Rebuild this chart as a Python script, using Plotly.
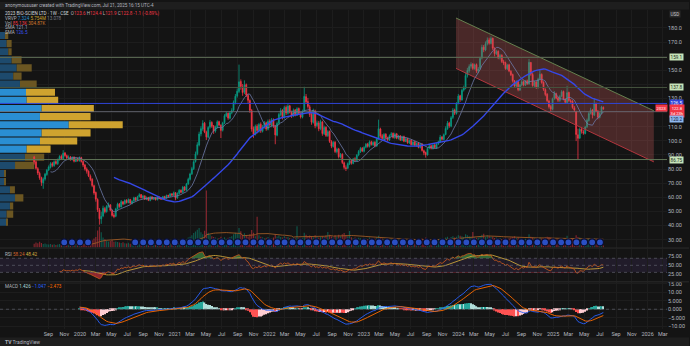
import numpy as np
import pandas as pd
import plotly.graph_objects as go

W, H = 690, 346

# ------------------------------------------------------------------ data
START_WEEK = "2019-07-08"

opens = [
    88.6, 85.2, 80.3, 77.0, 73.9, 70.2, 72.9, 76.1, 79.4, 81.2,
    83.9, 82.4, 85.3, 83.8, 86.9, 89.0, 87.3, 91.4, 89.5, 87.6,
    88.5, 86.8, 88.3, 85.4, 87.4, 86.0, 88.1, 85.3, 82.9, 80.0,
    78.5, 75.0, 72.8, 68.2, 63.4, 58.5, 51.0, 44.6, 46.8, 52.0,
    49.9, 53.4, 54.6, 50.7, 47.4, 46.6, 51.9, 55.3, 53.1, 56.8,
    55.4, 57.9, 56.2, 58.5, 55.8, 57.3, 59.7, 58.0, 60.5, 61.9,
    59.6, 61.0, 58.5, 59.9, 57.8, 60.3, 58.7, 59.6, 58.2, 60.2,
    59.3, 58.6, 60.5, 59.5, 61.4, 60.7, 62.5, 61.4, 63.3, 59.5,
    62.7, 65.0, 63.5, 67.3, 65.0, 69.5, 72.7, 76.6, 80.2, 85.3,
    90.8, 97.0, 104.9, 108.4, 112.5, 106.1, 102.6, 109.7, 113.0, 110.6,
    106.9, 109.5, 113.6, 111.0, 107.5, 112.8, 117.6, 119.5, 116.0, 119.9,
    121.7, 127.1, 131.8, 135.0, 142.0, 138.3, 134.4, 139.8, 132.2, 128.5,
    121.4, 108.6, 104.4, 110.4, 107.1, 111.7, 106.7, 109.9, 112.8, 108.2,
    113.9, 111.0, 115.0, 110.4, 104.0, 112.5, 118.4, 121.6, 116.6, 123.7,
    119.5, 124.8, 120.1, 117.6, 121.8, 118.2, 122.9, 119.1, 116.7, 121.0,
    131.3, 127.8, 124.1, 118.7, 113.0, 121.2, 110.8, 112.6, 108.7, 113.4,
    105.0, 109.6, 103.6, 106.7, 99.4, 96.0, 99.0, 92.2, 94.3, 88.5,
    90.5, 84.4, 81.0, 80.6, 83.6, 86.1, 84.0, 87.3, 86.1, 90.0,
    92.2, 94.8, 92.6, 95.5, 97.8, 95.9, 99.4, 97.2, 99.0, 96.3,
    101.5, 108.4, 103.6, 101.5, 104.7, 102.0, 100.6, 103.8, 105.3, 102.2,
    104.9, 101.7, 103.5, 100.4, 103.0, 99.5, 101.6, 98.4, 100.4, 97.1,
    99.3, 96.6, 98.4, 95.2, 97.8, 93.0, 91.7, 90.0, 94.8, 96.5,
    94.6, 97.1, 95.0, 97.9, 99.2, 102.8, 100.9, 104.5, 108.5, 112.7,
    110.4, 116.6, 121.9, 119.4, 126.5, 131.9, 129.0, 136.0, 137.2, 146.4,
    149.6, 152.8, 154.3, 151.1, 154.0, 149.4, 151.1, 158.6, 166.4, 164.3,
    168.9, 171.5, 169.0, 172.6, 165.4, 161.6, 163.4, 158.7, 160.6, 156.0,
    155.3, 151.0, 153.8, 149.2, 147.0, 142.3, 138.7, 141.9, 136.0, 139.6,
    141.9, 139.4, 142.5, 140.3, 155.4, 147.0, 139.0, 141.7, 137.6, 143.8,
    147.0, 141.5, 136.3, 133.0, 128.2, 124.4, 122.3, 130.0, 133.4, 130.4,
    128.5, 131.6, 135.0, 129.4, 127.1, 134.3, 128.3, 128.1, 123.4, 120.6,
    104.3, 102.0, 108.4, 106.5, 105.2, 110.0, 114.4, 119.5, 121.9, 118.2,
    126.3, 121.0, 116.6, 119.7, 123.6,
]
highs = [
    89.4, 86.1, 81.4, 78.2, 74.6, 74.1, 77.3, 80.1, 82.6, 84.9,
    85.0, 86.2, 86.4, 87.5, 89.8, 90.2, 93.4, 92.1, 90.3, 89.7,
    89.3, 89.0, 89.1, 88.1, 88.2, 88.9, 88.7, 86.0, 83.7, 81.2,
    79.1, 76.2, 73.5, 69.0, 64.1, 59.3, 52.4, 49.8, 54.1, 53.2,
    54.5, 56.3, 55.2, 51.4, 48.8, 52.6, 56.2, 56.0, 58.1, 57.4,
    58.6, 58.7, 59.2, 58.9, 57.9, 60.4, 60.3, 61.1, 62.9, 62.3,
    61.7, 61.4, 60.6, 60.3, 60.9, 60.8, 60.2, 60.1, 60.8, 60.6,
    59.9, 61.0, 61.1, 61.9, 61.8, 63.0, 62.9, 64.1, 63.6, 63.5,
    65.8, 65.6, 68.1, 67.9, 70.2, 73.9, 77.4, 81.6, 86.3, 92.4,
    99.0, 106.5, 110.3, 114.6, 113.4, 107.2, 110.4, 114.8, 113.9, 111.2,
    110.8, 114.6, 114.3, 111.8, 113.5, 118.9, 120.6, 120.1, 121.0, 123.1,
    128.6, 133.2, 137.1, 154.0, 143.5, 140.2, 142.8, 140.6, 133.5, 129.4,
    122.6, 110.2, 111.5, 111.8, 112.7, 113.1, 111.2, 114.0, 113.6, 115.1,
    115.3, 116.2, 115.9, 111.3, 113.6, 119.8, 123.2, 122.4, 124.8, 125.1,
    126.0, 125.5, 121.4, 122.9, 122.6, 123.8, 123.6, 120.2, 122.1, 138.3,
    133.2, 130.4, 125.6, 119.8, 122.8, 122.1, 114.3, 114.1, 115.0, 114.2,
    110.8, 110.3, 107.6, 107.3, 100.5, 99.9, 99.8, 95.2, 95.0, 91.4,
    91.2, 85.3, 82.6, 84.7, 87.2, 86.9, 87.9, 88.4, 90.6, 93.5,
    95.7, 95.6, 96.2, 98.5, 98.6, 100.3, 100.1, 99.7, 99.8, 102.4,
    115.0, 109.3, 104.8, 105.6, 105.4, 102.9, 104.5, 106.2, 105.9, 105.7,
    105.6, 104.2, 104.1, 103.6, 103.7, 102.2, 102.0, 101.1, 100.9, 99.8,
    99.9, 98.9, 99.0, 98.3, 98.1, 93.8, 92.4, 95.3, 97.2, 97.0,
    97.6, 97.8, 98.6, 100.1, 104.2, 103.4, 105.2, 110.3, 114.1, 113.5,
    117.6, 123.2, 122.8, 127.4, 133.2, 132.6, 136.9, 139.1, 148.3, 151.7,
    154.2, 155.6, 155.1, 154.7, 154.8, 152.3, 159.6, 168.1, 167.9, 170.4,
    173.2, 173.0, 174.0, 173.1, 166.3, 164.5, 164.1, 161.6, 161.3, 157.4,
    156.1, 154.5, 154.6, 150.1, 147.6, 143.1, 142.8, 142.6, 140.3, 143.2,
    142.6, 143.1, 143.4, 158.0, 155.9, 148.1, 142.6, 142.3, 144.7, 150.0,
    147.8, 142.1, 137.2, 133.8, 129.1, 125.6, 130.6, 135.2, 134.1, 131.2,
    132.6, 135.9, 135.6, 130.2, 139.0, 134.8, 129.6, 128.8, 124.7, 121.3,
    108.6, 109.4, 109.7, 107.9, 110.6, 115.8, 120.5, 123.4, 122.6, 130.2,
    127.1, 121.9, 120.4, 124.8, 124.4,
]
lows = [
    83.2, 79.6, 75.8, 72.4, 68.1, 66.0, 71.8, 75.2, 78.6, 80.4,
    81.3, 81.6, 83.1, 82.9, 86.0, 86.4, 86.8, 88.7, 86.9, 86.5,
    85.9, 86.1, 84.7, 84.9, 85.2, 85.3, 84.6, 81.4, 78.9, 76.8,
    74.3, 71.4, 67.2, 61.8, 56.9, 49.6, 40.6, 41.2, 45.9, 48.6,
    49.1, 52.7, 50.1, 46.3, 45.2, 45.9, 51.2, 52.6, 52.8, 54.3,
    54.8, 55.6, 55.8, 55.1, 55.0, 56.8, 57.4, 57.5, 59.9, 59.1,
    59.0, 58.1, 58.0, 57.3, 57.2, 58.2, 58.1, 57.7, 57.9, 58.6,
    58.1, 58.2, 59.0, 59.1, 60.2, 60.3, 61.0, 61.0, 57.9, 59.0,
    62.1, 62.9, 63.1, 64.3, 64.6, 68.8, 71.9, 75.8, 79.4, 84.6,
    89.7, 96.1, 103.2, 107.1, 105.4, 100.6, 101.8, 108.6, 109.2, 104.9,
    105.8, 108.7, 110.4, 102.0, 106.6, 111.9, 116.8, 114.9, 115.2, 118.8,
    120.9, 125.8, 130.6, 133.8, 136.2, 131.9, 133.1, 131.0, 126.3, 119.8,
    106.5, 102.1, 103.8, 105.2, 105.8, 105.6, 105.9, 108.6, 107.1, 107.4,
    109.8, 109.6, 109.2, 97.6, 103.2, 111.4, 117.3, 115.1, 115.6, 118.2,
    118.6, 119.4, 116.2, 116.8, 117.3, 117.6, 118.4, 115.8, 115.9, 120.4,
    126.1, 122.9, 116.9, 111.4, 112.2, 108.9, 109.7, 106.8, 107.5, 103.6,
    104.1, 102.7, 102.8, 98.5, 94.8, 95.2, 91.3, 91.0, 87.5, 87.6,
    83.5, 79.8, 78.6, 79.9, 82.8, 83.1, 83.4, 85.2, 85.4, 89.1,
    91.4, 92.0, 91.8, 94.7, 95.2, 95.3, 96.6, 96.3, 95.4, 95.7,
    100.8, 102.1, 100.6, 100.9, 101.3, 99.7, 99.9, 102.9, 101.6, 101.4,
    101.1, 100.9, 99.9, 99.8, 99.0, 99.1, 97.9, 97.8, 96.6, 96.5,
    96.1, 95.9, 94.7, 94.6, 92.4, 89.8, 88.1, 89.6, 94.0, 93.9,
    93.8, 94.6, 94.4, 97.1, 98.5, 100.2, 100.4, 103.9, 107.8, 109.2,
    109.6, 115.4, 118.3, 118.6, 125.8, 127.6, 128.4, 134.9, 136.5, 144.8,
    148.3, 151.2, 150.2, 150.4, 148.1, 147.9, 150.3, 157.7, 162.8, 163.5,
    167.6, 168.1, 168.3, 164.2, 159.8, 160.9, 157.8, 157.6, 155.1, 153.6,
    150.3, 150.2, 148.6, 145.9, 141.3, 137.6, 137.9, 135.1, 135.3, 138.7,
    138.6, 138.9, 139.6, 139.8, 146.1, 138.3, 138.1, 136.7, 137.0, 142.9,
    140.4, 135.4, 131.6, 127.3, 122.9, 120.8, 121.6, 129.1, 129.4, 127.5,
    127.6, 130.8, 128.7, 126.2, 126.5, 127.6, 126.4, 122.7, 120.4, 99.8,
    87.0, 101.2, 105.1, 104.3, 104.6, 109.1, 113.6, 118.7, 115.9, 117.6,
    120.3, 115.2, 115.9, 118.9, 121.9,
]
closes = [
    85.0, 80.5, 77.2, 73.8, 70.5, 72.8, 76.4, 79.2, 81.5, 83.8,
    82.6, 85.1, 84.0, 86.7, 88.9, 87.5, 91.2, 89.6, 87.8, 88.4,
    86.9, 88.2, 85.6, 87.3, 86.1, 88.0, 85.4, 82.8, 80.1, 78.4,
    75.2, 72.6, 68.4, 63.1, 58.7, 51.2, 44.8, 46.5, 52.3, 49.8,
    53.6, 54.8, 50.9, 47.2, 46.4, 51.8, 55.1, 53.4, 56.9, 55.2,
    57.8, 56.3, 58.4, 55.9, 57.2, 59.6, 58.1, 60.4, 61.8, 59.7,
    60.9, 58.6, 59.8, 57.9, 60.2, 58.8, 59.5, 58.3, 60.1, 59.2,
    58.7, 60.4, 59.6, 61.3, 60.8, 62.4, 61.5, 63.2, 59.4, 62.8,
    64.9, 63.6, 67.2, 65.1, 69.4, 72.8, 76.5, 80.3, 85.1, 90.6,
    97.2, 104.8, 108.6, 112.4, 106.3, 102.8, 109.5, 113.2, 110.4, 106.8,
    109.7, 113.5, 111.2, 107.4, 112.6, 117.8, 119.4, 116.2, 119.8, 121.5,
    127.3, 131.6, 135.2, 141.8, 138.5, 134.2, 139.6, 132.4, 128.7, 121.6,
    108.4, 104.6, 110.2, 107.3, 111.5, 106.9, 109.8, 112.6, 108.4, 113.7,
    111.2, 114.8, 110.6, 104.2, 112.3, 118.6, 121.4, 116.8, 123.5, 119.7,
    124.6, 120.3, 117.8, 121.6, 118.4, 122.7, 119.3, 116.9, 120.8, 131.5,
    127.6, 124.3, 118.5, 113.2, 121.4, 110.6, 112.8, 108.5, 113.6, 105.2,
    109.4, 103.8, 106.5, 99.6, 96.2, 98.8, 92.4, 94.1, 88.7, 90.3,
    84.6, 81.2, 80.4, 83.8, 85.9, 84.2, 87.1, 86.3, 89.8, 92.4,
    94.6, 92.8, 95.3, 97.6, 96.1, 99.2, 97.4, 98.8, 96.5, 101.3,
    108.6, 103.4, 101.7, 104.5, 102.2, 100.8, 103.6, 105.1, 102.4, 104.8,
    101.9, 103.3, 100.6, 102.8, 99.7, 101.4, 98.6, 100.2, 97.3, 99.1,
    96.8, 98.2, 95.4, 97.6, 93.2, 91.5, 90.2, 94.6, 96.3, 94.8,
    96.9, 95.2, 97.8, 99.4, 102.6, 101.1, 104.3, 108.7, 112.5, 110.6,
    116.4, 121.8, 119.6, 126.3, 131.7, 129.2, 135.8, 137.4, 146.2, 149.8,
    152.6, 154.1, 151.3, 153.8, 149.6, 150.9, 158.4, 166.2, 164.5, 168.7,
    171.3, 169.2, 172.4, 165.6, 161.8, 163.2, 158.9, 160.4, 156.2, 155.1,
    151.2, 153.6, 149.4, 146.8, 142.5, 138.9, 141.7, 136.2, 139.4, 141.8,
    139.6, 142.3, 140.5, 155.6, 147.2, 139.2, 141.5, 137.8, 143.6, 147.2,
    141.3, 136.5, 132.8, 128.4, 124.2, 122.5, 129.8, 133.6, 130.2, 128.7,
    131.4, 134.8, 129.6, 127.3, 134.1, 128.5, 127.9, 123.6, 121.8, 104.5,
    101.8, 108.2, 106.7, 105.4, 109.8, 114.6, 119.3, 121.7, 118.4, 126.5,
    121.2, 116.8, 119.5, 123.9, 122.8,
]
volumes_k = [
    160, 210, 180, 240, 190, 150, 170, 140, 130, 150,
    120, 140, 110, 130, 150, 120, 170, 140, 110, 100,
    120, 90, 110, 100, 130, 110, 140, 160, 180, 200,
    220, 260, 310, 380, 450, 720, 880, 640, 420, 350,
    300, 260, 280, 320, 240, 260, 230, 210, 190, 220,
    180, 170, 200, 160, 150, 190, 170, 180, 210, 160,
    150, 170, 140, 160, 130, 150, 140, 120, 160, 130,
    140, 150, 130, 170, 160, 180, 150, 200, 260, 220,
    250, 230, 310, 280, 340, 420, 460, 520, 610, 680,
    750, 820, 640, 560, 710, 2400, 620, 540, 480, 450,
    420, 380, 400, 460, 390, 430, 370, 410, 440, 480,
    560, 620, 580, 820, 690, 540, 600, 520, 470, 560,
    740, 620, 480, 1300, 520, 460, 430, 390, 410, 450,
    400, 380, 420, 560, 470, 510, 440, 420, 480, 430,
    450, 400, 380, 420, 390, 900, 420, 380, 410, 620,
    540, 470, 510, 480, 430, 520, 460, 420, 440, 480,
    460, 510, 650, 540, 480, 420, 520, 460, 540, 480,
    560, 610, 520, 480, 700, 430, 390, 420, 380, 410,
    390, 360, 400, 380, 350, 420, 370, 340, 380, 430,
    500, 420, 380, 360, 340, 370, 330, 350, 320, 340,
    310, 330, 300, 320, 290, 310, 300, 280, 320, 300,
    290, 310, 330, 300, 380, 360, 420, 350, 320, 300,
    310, 290, 320, 340, 380, 330, 360, 420, 460, 400,
    450, 480, 420, 460, 520, 500, 480, 440, 560, 520,
    480, 460, 650, 430, 410, 420, 460, 540, 580, 460,
    520, 480, 440, 460, 400, 420, 380, 400, 360, 380,
    410, 370, 390, 420, 450, 480, 400, 430, 380, 360,
    340, 370, 350, 560, 460, 420, 380, 400, 360, 420,
    380, 400, 420, 460, 440, 420, 380, 360, 340, 350,
    330, 360, 340, 320, 500, 380, 340, 360, 400, 520,
    450, 420, 360, 330, 340, 360, 380, 350, 320, 400,
    340, 310, 300, 320, 85,
]

# visible-range volume profile (rows from the bottom), millions of shares
PROFILE_LOW = 39.5
PROFILE_ROW = 5.75
profile_up_m = [0.71, 0.71, 1.06, 1.60, 1.06, 0.43, 0.43, 1.60, 2.66, 2.84, 4.26, 4.44,
                7.324, 4.26, 4.44, 2.84, 2.77, 2.13, 1.41, 1.78, 1.24, 0.88, 0.71, 0.53]
profile_down_m = [0.05, 0.70, 0.35, 0.89, 0.53, 0.21, 0.21, 2.05, 2.05, 2.55, 3.97, 5.21,
                  5.754, 5.39, 5.56, 3.36, 3.09, 1.78, 0.89, 1.60, 1.06, 0.36, 0.53, 0.35]
VALUE_AREA_ROWS = (9, 16)

# drawings
h_levels = [159.1, 137.8, 86.75]
h_level_text = ["159.1", "137.8", "86.75"]
SMA_LEVEL = 126.5
GRAY_LEVEL = 120.7
channel_dates = ["2023-12-23", "2026-01-25"]
channel_upper = [187.0, 121.3]
channel_lower = [151.3, 85.1]

dividend_dates = list(pd.date_range("2019-11-01", "2020-02-01", freq="MS")) + \
                 list(pd.date_range("2020-08-01", "2025-07-01", freq="MS"))

tick_dates = pd.date_range("2019-09-01", "2026-03-01", freq="2MS")
tick_text = [str(d.year) if d.month == 1 else d.strftime("%b") for d in tick_dates]
price_ticks = [30, 40, 50, 60, 70, 80, 90, 100, 110, 120, 130, 140, 150, 160, 170, 180]
price_hidden = {120, 140, 160}

# ------------------------------------------------------------------ derived
dates = pd.date_range(START_WEEK, periods=len(closes), freq="7D")
c = pd.Series(closes, index=dates)
v = pd.Series(volumes_k, index=dates)
sma_fast = c.rolling(10).mean()
sma_slow = c.rolling(45).mean()
vol_ma = v.rolling(20).mean()

delta = c.diff()
up = delta.clip(lower=0)
dn = -delta.clip(upper=0)
rs = up.ewm(alpha=1 / 14, adjust=False).mean() / dn.ewm(alpha=1 / 14, adjust=False).mean()
rsi = 100 - 100 / (1 + rs)
rsi.iloc[:14] = np.nan
rsi_ma = rsi.rolling(14).mean()

ema12 = c.ewm(span=12, adjust=False).mean()
ema26 = c.ewm(span=26, adjust=False).mean()
macd = ema12 - ema26
signal = macd.ewm(span=9, adjust=False).mean()
hist = macd - signal
macd.iloc[:25] = np.nan
signal.iloc[:25] = np.nan
hist.iloc[:25] = np.nan

# ------------------------------------------------------------------ style / layout
BG = "#141414"
BAND = "#1e1e1e"
GRID = "#1d1d1d"
TXT = "#b2b5be"
UPC = "#089981"
DNC = "#f23645"
FONT = "Roboto"
X_RANGE = ["2019-02-26", "2026-03-17"]
XD = 668 / W


def py(p):
    return 1 - p / H


MAIN_DOM = [py(247), py(8)]
RSI_DOM = [py(281), py(248)]
MACD_DOM = [py(329), py(282)]
PRICE_RANGE = [24.4, 192.7]
VOL_RANGE = [0, 10000]
RSI_RANGE = [4.4, 97.6]
MACD_RANGE = [-11.6, 15.7]

fig = go.Figure()

# volume profile as horizontal bars starting at left edge of the time axis
range_ms = (pd.Timestamp(X_RANGE[1]) - pd.Timestamp(X_RANGE[0])).total_seconds() * 1000
max_total = max(u + d for u, d in zip(profile_up_m, profile_down_m))
ms_per_m = 0.184 * range_ms / max_total
centers = [PROFILE_LOW + (k + 0.5) * PROFILE_ROW for k in range(len(profile_up_m))]
in_va = [VALUE_AREA_ROWS[0] <= k <= VALUE_AREA_ROWS[1] for k in range(len(centers))]
up_ms = [u * ms_per_m for u in profile_up_m]
dn_ms = [d * ms_per_m for d in profile_down_m]
x0 = pd.Timestamp(X_RANGE[0])
fig.add_trace(go.Bar(orientation="h", y=centers, x=up_ms, base=[X_RANGE[0]] * len(centers),
                     width=PROFILE_ROW * 0.88, xaxis="x", yaxis="y",
                     marker=dict(color=["#2a8ed2" if a else "#1d4a6d" for a in in_va], line_width=0),
                     hoverinfo="skip", showlegend=False))
fig.add_trace(go.Bar(orientation="h", y=centers, x=dn_ms,
                     base=[(x0 + pd.Timedelta(milliseconds=u)).isoformat() for u in up_ms],
                     width=PROFILE_ROW * 0.88, xaxis="x", yaxis="y",
                     marker=dict(color=["#cfa32f" if a else "#6b5622" for a in in_va], line_width=0),
                     hoverinfo="skip", showlegend=False))

# parallel channel
fig.add_trace(go.Scatter(x=[channel_dates[0], channel_dates[1], channel_dates[1], channel_dates[0], channel_dates[0]],
                         y=[channel_upper[0], channel_upper[1], channel_lower[1], channel_lower[0], channel_upper[0]],
                         fill="toself", fillcolor="rgba(200,90,90,0.30)", line=dict(width=0),
                         mode="lines", hoverinfo="skip", showlegend=False))
fig.add_trace(go.Scatter(x=channel_dates, y=channel_upper, mode="lines",
                         line=dict(color="#66804f", width=1), hoverinfo="skip", showlegend=False))
fig.add_trace(go.Scatter(x=channel_dates, y=channel_lower, mode="lines",
                         line=dict(color="#b3363e", width=1), hoverinfo="skip", showlegend=False))

# candles
fig.add_trace(go.Candlestick(x=dates, open=opens, high=highs, low=lows, close=closes,
                             increasing=dict(line=dict(color=UPC, width=0.8), fillcolor=UPC),
                             decreasing=dict(line=dict(color=DNC, width=0.8), fillcolor=DNC),
                             whiskerwidth=0, hoverinfo="skip", showlegend=False))
fig.add_trace(go.Scatter(x=dates, y=sma_fast, mode="lines", line=dict(color="#6d7aa8", width=0.8),
                         hoverinfo="skip", showlegend=False))
fig.add_trace(go.Scatter(x=dates, y=sma_slow, mode="lines", line=dict(color="#3548e8", width=1.4),
                         hoverinfo="skip", showlegend=False))

# volume pane overlay
vcol = ["rgba(8,153,129,0.5)" if cl >= op else "rgba(242,54,69,0.5)" for op, cl in zip(opens, closes)]
fig.add_trace(go.Bar(x=dates, y=volumes_k, marker=dict(color=vcol, line_width=0),
                     width=4.5 * 86400000, xaxis="x", yaxis="y2", hoverinfo="skip", showlegend=False))
fig.add_trace(go.Scatter(x=dates, y=vol_ma, mode="lines", line=dict(color="#9c5a26", width=0.9),
                         xaxis="x", yaxis="y2", hoverinfo="skip", showlegend=False))
fig.add_trace(go.Scatter(x=dividend_dates, y=[VOL_RANGE[1] * 0.022] * len(dividend_dates), mode="markers",
                         marker=dict(size=7, color="#2a4fc4", line=dict(color="#0c0f2e", width=1.2)),
                         xaxis="x", yaxis="y2", hoverinfo="skip", showlegend=False))

# RSI pane
valid = rsi.notna()
rd = dates[valid]
fig.add_trace(go.Scatter(x=rd, y=[70] * len(rd), mode="lines", line=dict(width=0),
                         xaxis="x3", yaxis="y3", hoverinfo="skip", showlegend=False))
fig.add_trace(go.Scatter(x=rd, y=np.maximum(rsi[valid], 70), mode="lines", line=dict(width=0),
                         fill="tonexty", fillcolor="rgba(76,175,80,0.55)",
                         xaxis="x3", yaxis="y3", hoverinfo="skip", showlegend=False))
fig.add_trace(go.Scatter(x=rd, y=[30] * len(rd), mode="lines", line=dict(width=0),
                         xaxis="x3", yaxis="y3", hoverinfo="skip", showlegend=False))
fig.add_trace(go.Scatter(x=rd, y=np.minimum(rsi[valid], 30), mode="lines", line=dict(width=0),
                         fill="tonexty", fillcolor="rgba(242,54,69,0.55)",
                         xaxis="x3", yaxis="y3", hoverinfo="skip", showlegend=False))
fig.add_trace(go.Scatter(x=dates, y=rsi_ma, mode="lines", line=dict(color="#c9a43a", width=0.9),
                         xaxis="x3", yaxis="y3", hoverinfo="skip", showlegend=False))
fig.add_trace(go.Scatter(x=dates, y=rsi, mode="lines", line=dict(color="#c0561d", width=0.9),
                         xaxis="x3", yaxis="y3", hoverinfo="skip", showlegend=False))

# MACD pane
hcol = []
prev = np.nan
for hv in hist:
    if np.isnan(hv):
        hcol.append("rgba(0,0,0,0)")
    elif hv >= 0:
        hcol.append("#26a69a" if (np.isnan(prev) or hv > prev) else "#b2dfdb")
    else:
        hcol.append("#ff5252" if (np.isnan(prev) or hv < prev) else "#ffcdd2")
    prev = hv
fig.add_trace(go.Bar(x=dates, y=hist, marker=dict(color=hcol, line_width=0), width=5 * 86400000,
                     xaxis="x4", yaxis="y4", hoverinfo="skip", showlegend=False))
fig.add_trace(go.Scatter(x=dates, y=macd, mode="lines", line=dict(color="#2962ff", width=0.9),
                         xaxis="x4", yaxis="y4", hoverinfo="skip", showlegend=False))
fig.add_trace(go.Scatter(x=dates, y=signal, mode="lines", line=dict(color="#ff6d00", width=0.9),
                         xaxis="x4", yaxis="y4", hoverinfo="skip", showlegend=False))

# ------------------------------------------------------------------ axes
tickfont = dict(family=FONT, size=5.5, color=TXT)
xcommon = dict(type="date", range=X_RANGE, domain=[0, XD], tickvals=tick_dates, ticktext=tick_text,
               showgrid=True, gridcolor=GRID, gridwidth=1, zeroline=False, showline=False, ticks="",
               tickfont=tickfont, fixedrange=True)
ptext = ["" if t in price_hidden else (f"{t:.1f}" if t >= 100 else f"{t:.2f}") for t in price_ticks]

fig.update_layout(
    width=W, height=H, autosize=False, margin=dict(l=0, r=0, t=0, b=0),
    paper_bgcolor=BG, plot_bgcolor=BG, barmode="overlay", showlegend=False,
    font=dict(family=FONT, color=TXT, size=6),
    xaxis=dict(xcommon, anchor="y", showticklabels=False, rangeslider=dict(visible=False)),
    xaxis3=dict(xcommon, anchor="y3", showticklabels=False),
    xaxis4=dict(xcommon, anchor="y4", showticklabels=True),
    yaxis=dict(domain=MAIN_DOM, range=PRICE_RANGE, side="right", anchor="x", tickvals=price_ticks,
               ticktext=ptext, showgrid=True, gridcolor=GRID, zeroline=False, ticks="",
               tickfont=tickfont, fixedrange=True),
    yaxis2=dict(overlaying="y", anchor="x", range=VOL_RANGE, visible=False, fixedrange=True),
    yaxis3=dict(domain=RSI_DOM, range=RSI_RANGE, side="right", anchor="x3", tickvals=[25, 50, 75],
                ticktext=["25.00", "50.00", "75.00"], showgrid=False, zeroline=False, ticks="",
                tickfont=tickfont, fixedrange=True),
    yaxis4=dict(domain=MACD_DOM, range=MACD_RANGE, side="right", anchor="x4",
                tickvals=[-10, -5, 0, 5, 10, 15],
                ticktext=["\u221210.00", "\u22125.000", "0.000", "5.000", "10.00", "15.00"],
                showgrid=True, gridcolor=GRID, zeroline=False, ticks="", tickfont=tickfont, fixedrange=True),
)

shapes = []
# horizontal levels
for lv, colr in zip(h_levels, ["#5d6d55", "#46543f", "#5f7456"]):
    shapes.append(dict(type="line", xref="x domain", yref="y", x0=0, x1=1, y0=lv, y1=lv,
                       line=dict(color=colr, width=1)))
shapes.append(dict(type="line", xref="x domain", yref="y", x0=0, x1=1, y0=SMA_LEVEL, y1=SMA_LEVEL,
                   line=dict(color="#2f45d8", width=1)))
shapes.append(dict(type="line", xref="x domain", yref="y", x0=0, x1=1, y0=GRAY_LEVEL, y1=GRAY_LEVEL,
                   line=dict(color="#6b6e78", width=0.8)))
# RSI band and guides
shapes.append(dict(type="rect", xref="x3 domain", yref="y3", x0=0, x1=1, y0=30, y1=70,
                   fillcolor="rgba(126,87,194,0.13)", line=dict(width=0), layer="below"))
for lv in (70, 50, 30):
    shapes.append(dict(type="line", xref="x3 domain", yref="y3", x0=0, x1=1, y0=lv, y1=lv,
                       line=dict(color="#5d606b", width=0.7, dash="dot")))
shapes.append(dict(type="line", xref="x4 domain", yref="y4", x0=0, x1=1, y0=0, y1=0,
                   line=dict(color="#5d606b", width=0.7, dash="dot")))
# pane separators and bands
for yp in (247.5, 281.5):
    shapes.append(dict(type="line", xref="paper", yref="paper", x0=0, x1=1, y0=py(yp), y1=py(yp),
                       line=dict(color="#2c2c2c", width=1)))
shapes.append(dict(type="rect", xref="paper", yref="paper", x0=0, x1=1, y0=py(7.5), y1=1,
                   fillcolor=BAND, line=dict(width=0)))
shapes.append(dict(type="rect", xref="paper", yref="paper", x0=0, x1=1, y0=0, y1=py(337.5),
                   fillcolor=BAND, line=dict(width=0)))
fig.update_layout(shapes=shapes)

ann = []


def label(y, text, bg, fg, yref="y", x=669.5 / W, xanchor="left", size=4.6):
    ann.append(dict(xref="paper", yref=yref, x=x, y=y, xanchor=xanchor, yanchor="middle",
                    text=text, showarrow=False, bgcolor=bg, borderpad=0.6,
                    font=dict(family=FONT, size=size, color=fg)))


for lv, tx in zip(h_levels, h_level_text):
    label(lv, tx, "#c5e3b8", "#1b2a16")
label(SMA_LEVEL, f"{SMA_LEVEL:.1f}", "#2f45d8", "#ffffff")
# price label is stacked just below the SMA label (TradingView label collision)
label(closes[-1] - 1.6, f"{closes[-1]:.1f}<br>3d 23h", DNC, "#ffffff", size=4.1)
label(closes[-1] + 0.6, "2023", DNC, "#ffffff", x=668.5 / W, xanchor="right", size=4.1)
label(115.4, "120.2", "#8fb8ef", "#10203a")
label(py(12.5), "USD", "#2a2a2a", "#c8c8c8", yref="paper")


def txt(x, y, text, size=5):
    ann.append(dict(xref="paper", yref="paper", x=x / W, y=py(y), xanchor="left", yanchor="middle",
                    text=text, showarrow=False, font=dict(family=FONT, size=size, color=TXT)))


def sp(t, col):
    return f"<span style='color:{col}'>{t}</span>"


chg = closes[-1] - closes[-2]
pct = chg / closes[-2] * 100
txt(3, 3.5, "anonymoususer created with TradingView.com, Jul 21, 2025 16:15 UTC-4", 4.6)
txt(3, 11.5, sp("2023 BIO-SCIEN LTD · 1W · CSE", "#d1d4dc") + "  " +
    sp("O", TXT) + sp(f"{opens[-1]:.1f}", DNC) + " " + sp("H", TXT) + sp(f"{highs[-1]:.1f}", DNC) + " " +
    sp("L", TXT) + sp(f"{lows[-1]:.1f}", DNC) + " " + sp("C", TXT) + sp(f"{closes[-1]:.1f}", DNC) + " " +
    sp(f"{chg:+.1f} ({pct:+.2f}%)", DNC), 4.6)
txt(3, 16.5, "VRVP " + sp("7.324", "#2a8ed2") + " " + sp("5.754M", "#cfa32f") + " " + sp("13.078", "#787b86"), 4.6)
txt(3, 21.3, "Vol " + sp("85.13K", DNC) + " " + sp("304.87K", "#d07a2c"), 4.6)
txt(3, 26, "SMA " + sp("121.1", "#8fa4d8"), 4.6)
txt(3, 30.7, "SMA " + sp("126.5", "#3d55f0"), 4.6)
txt(3, 253.5, "RSI " + sp("58.24", "#d0632a") + " " + sp("48.42", "#d4b040"), 4.6)
txt(3, 286.5, "MACD " + sp("1.426", "#b2dfdb") + " " + sp("\u22121.047", "#2962ff") + " " +
    sp("\u22122.473", "#ff6d00"), 4.6)
txt(3, 342, "<b>TV</b> TradingView", 5)
fig.update_layout(annotations=ann)

fig.write_html("out.html")
